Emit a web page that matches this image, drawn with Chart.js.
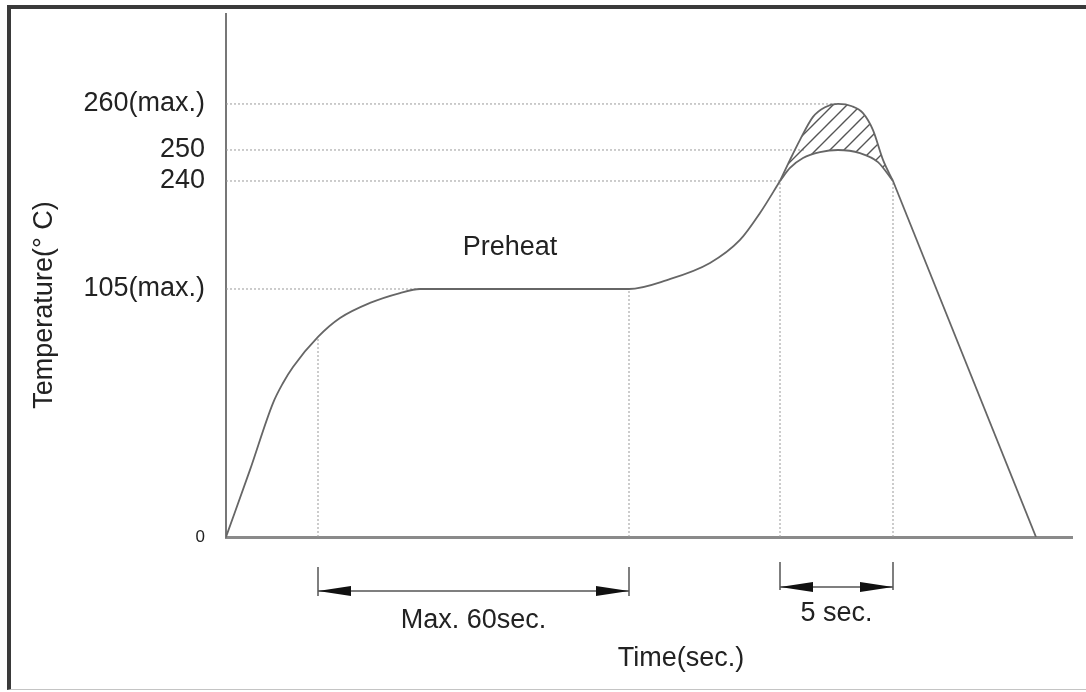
<!DOCTYPE html>
<html>
<head>
<meta charset="utf-8">
<script src="https://cdn.jsdelivr.net/npm/chart.js@4.4.1/dist/chart.umd.min.js"></script>
<style>
    body { margin: 0; background: #fff; }
    #frame {
        position: absolute; left: 7px; top: 5px; width: 1090px; height: 680px;
        border-left: 4px solid #3a3a3a; border-top: 4px solid #3a3a3a; border-bottom: 1px solid #c4c4c4;
    }
    #chart { position: absolute; left: 0; top: 0; }
</style>
</head>
<body>
<div id="frame"></div>
<canvas id="chart" width="1086" height="692"></canvas>
<script>
// 温度曲线（示意图，时间为示意单位）
const riseTime = [0, 24, 47, 57, 67, 92, 114, 144, 174, 194, 403, 441, 484, 514, 534, 554];
const riseTemp = [0, 28.4, 56.7, 65.2, 72.0, 84.7, 92.7, 99.1, 103.3, 105, 105, 116.2, 137.5, 166.3, 200, 240];

const lowerPeakTime = [554, 564, 577, 594, 612, 634, 652, 667];
const lowerPeakTemp = [240, 244.2, 247.4, 249.3, 250, 249.0, 246.1, 240];

const upperPeakTime = [554, 564, 574, 587, 599, 612, 626, 637, 647, 657, 667];
const upperPeakTemp = [240, 246.8, 252.2, 257.2, 259.3, 260, 259.5, 258.0, 254.3, 246.8, 240];

const coolTime = [667, 810];
const coolTemp = [240, 0];

// 虚线标记
const markTime = [92, 403, 554, 667];
const markTemp = [84.7, 105, 240, 240];
const levelTemp = [260, 250, 240, 105];
const levelEnd = [612, 579, 554, 194];

// 纵轴刻度
const yTicks = [0, 105, 240, 250, 260];
const yTickLabels = ['0', '105(max.)', '240', '250', '260(max.)'];

// 时间区间标注
const spanStart = [92, 554];
const spanEnd = [403, 667];
const spanLabels = ['Max. 60sec.', '5 sec.'];

const FONT = '"Liberation Sans", Arial, sans-serif';

// 非线性纵轴：刻度位置按图中比例分段
const yBreakValue = [0, 105, 240, 250, 260, 300];
const yBreakFrac = [0, 0.4742, 0.6807, 0.740, 0.828, 1];

function toFrac(v) {
    for (let i = 1; i < yBreakValue.length; i++) {
        if (v <= yBreakValue[i] || i === yBreakValue.length - 1) {
            const a = yBreakValue[i - 1], b = yBreakValue[i];
            return yBreakFrac[i - 1] + (v - a) / (b - a) * (yBreakFrac[i] - yBreakFrac[i - 1]);
        }
    }
}
function fromFrac(f) {
    for (let i = 1; i < yBreakFrac.length; i++) {
        if (f <= yBreakFrac[i] || i === yBreakFrac.length - 1) {
            const a = yBreakFrac[i - 1], b = yBreakFrac[i];
            return yBreakValue[i - 1] + (f - a) / (b - a) * (yBreakValue[i] - yBreakValue[i - 1]);
        }
    }
}

class SchematicScale extends Chart.LinearScale {
    getPixelForValue(value) {
        return this.getPixelForDecimal(toFrac(value));
    }
    getValueForPixel(pixel) {
        return fromFrac(this.getDecimalForPixel(pixel));
    }
}
SchematicScale.id = 'schematic';
Chart.register(SchematicScale);

function pts(xs, ys) {
    return xs.map((x, i) => ({ x: x, y: ys[i] }));
}

// 斜线填充
function hatchPattern() {
    const c = document.createElement('canvas');
    c.width = 14; c.height = 14;
    const g = c.getContext('2d');
    g.strokeStyle = '#555';
    g.lineWidth = 1.4;
    g.beginPath();
    g.moveTo(0, 14); g.lineTo(14, 0);
    g.moveTo(-2, 2); g.lineTo(2, -2);
    g.moveTo(12, 16); g.lineTo(16, 12);
    g.stroke();
    return g.createPattern(c, 'repeat');
}

const curve = {
    borderColor: '#666',
    borderWidth: 1.8,
    pointRadius: 0,
    cubicInterpolationMode: 'monotone',
    fill: false
};
const dotted = {
    borderColor: '#9a9a9a',
    borderWidth: 1,
    borderDash: [2, 2],
    pointRadius: 0,
    tension: 0,
    fill: false
};

const datasets = [
    Object.assign({ data: pts(riseTime, riseTemp) }, curve),
    Object.assign({ data: pts(lowerPeakTime, lowerPeakTemp) }, curve),
    Object.assign({ data: pts(upperPeakTime, upperPeakTemp) }, curve, { fill: '-1', backgroundColor: hatchPattern() }),
    Object.assign({ data: pts(coolTime, coolTemp) }, curve, { cubicInterpolationMode: 'default', tension: 0 })
];
levelTemp.forEach((t, i) => {
    datasets.push(Object.assign({ data: [{ x: 0, y: t }, { x: levelEnd[i], y: t }] }, dotted));
});
markTime.forEach((m, i) => {
    datasets.push(Object.assign({ data: [{ x: m, y: 0 }, { x: m, y: markTemp[i] }] }, dotted));
});

// 文字与区间箭头
const annotate = {
    id: 'annotate',
    afterDraw(chart, args, opts) {
        const ctx = chart.ctx;
        const xs = chart.scales.x;
        ctx.save();
        ctx.font = '27px ' + FONT;
        ctx.fillStyle = '#222';
        ctx.textAlign = 'center';
        ctx.textBaseline = 'middle';

        spanStart.forEach((t0, i) => {
            const x1 = xs.getPixelForValue(t0);
            const x2 = xs.getPixelForValue(spanEnd[i]);
            const row = opts.spanRows[i];
            ctx.strokeStyle = '#555';
            ctx.lineWidth = 1.5;
            ctx.beginPath();
            ctx.moveTo(x1, row.top); ctx.lineTo(x1, row.bottom);
            ctx.moveTo(x2, row.top); ctx.lineTo(x2, row.bottom);
            ctx.moveTo(x1, row.y); ctx.lineTo(x2, row.y);
            ctx.stroke();
            [[x1, 1], [x2, -1]].forEach(([x, dir]) => {
                ctx.fillStyle = '#111';
                ctx.beginPath();
                ctx.moveTo(x, row.y);
                ctx.lineTo(x + dir * 33, row.y - 5);
                ctx.lineTo(x + dir * 33, row.y + 5);
                ctx.closePath();
                ctx.fill();
            });
            ctx.fillStyle = '#222';
            ctx.fillText(spanLabels[i], (x1 + x2) / 2, row.labelY);
        });

        ctx.fillText('Preheat', opts.preheat.x, opts.preheat.y);
        ctx.fillText('Time(sec.)', opts.xTitle.x, opts.xTitle.y);

        ctx.translate(opts.yTitle.x, opts.yTitle.y);
        ctx.rotate(-Math.PI / 2);
        ctx.fillText('Temperature(° C)', 0, 0);
        ctx.restore();
    }
};

new Chart(document.getElementById('chart'), {
    type: 'line',
    data: { datasets: datasets },
    options: {
        responsive: false,
        animation: false,
        devicePixelRatio: 1,
        layout: { padding: { top: 14, right: 14, left: 0, bottom: 0 } },
        plugins: {
            legend: { display: false },
            tooltip: { enabled: false },
            annotate: {
                spanRows: [
                    { top: 567, bottom: 596, y: 591, labelY: 621 },
                    { top: 562, bottom: 590, y: 587, labelY: 614 }
                ],
                preheat: { x: 510, y: 248 },
                xTitle: { x: 681, y: 659 },
                yTitle: { x: 45, y: 305 }
            }
        },
        scales: {
            x: {
                type: 'linear',
                min: 0,
                max: 846,
                grid: { display: false },
                ticks: { display: false },
                border: { color: '#8a8a8a', width: 3 },
                afterFit(scale) {
                    scale.height = 155;
                    scale.paddingLeft = 0;
                    scale.paddingRight = 0;
                }
            },
            y: {
                type: 'schematic',
                min: 0,
                max: 300,
                grid: { display: false, drawTicks: false },
                border: { color: '#777', width: 2 },
                afterBuildTicks(scale) {
                    scale.ticks = yTicks.map(v => ({ value: v }));
                },
                ticks: {
                    padding: 21,
                    color: '#222',
                    font: (c) => ({ family: FONT, size: c.tick && c.tick.value === 0 ? 17 : 27 }),
                    callback: (v) => yTickLabels[yTicks.indexOf(v)]
                },
                afterFit(scale) {
                    scale.width = 226;
                    scale.paddingTop = 0;
                    scale.paddingBottom = 0;
                }
            }
        }
    },
    plugins: [annotate]
});
</script>
</body>
</html>
